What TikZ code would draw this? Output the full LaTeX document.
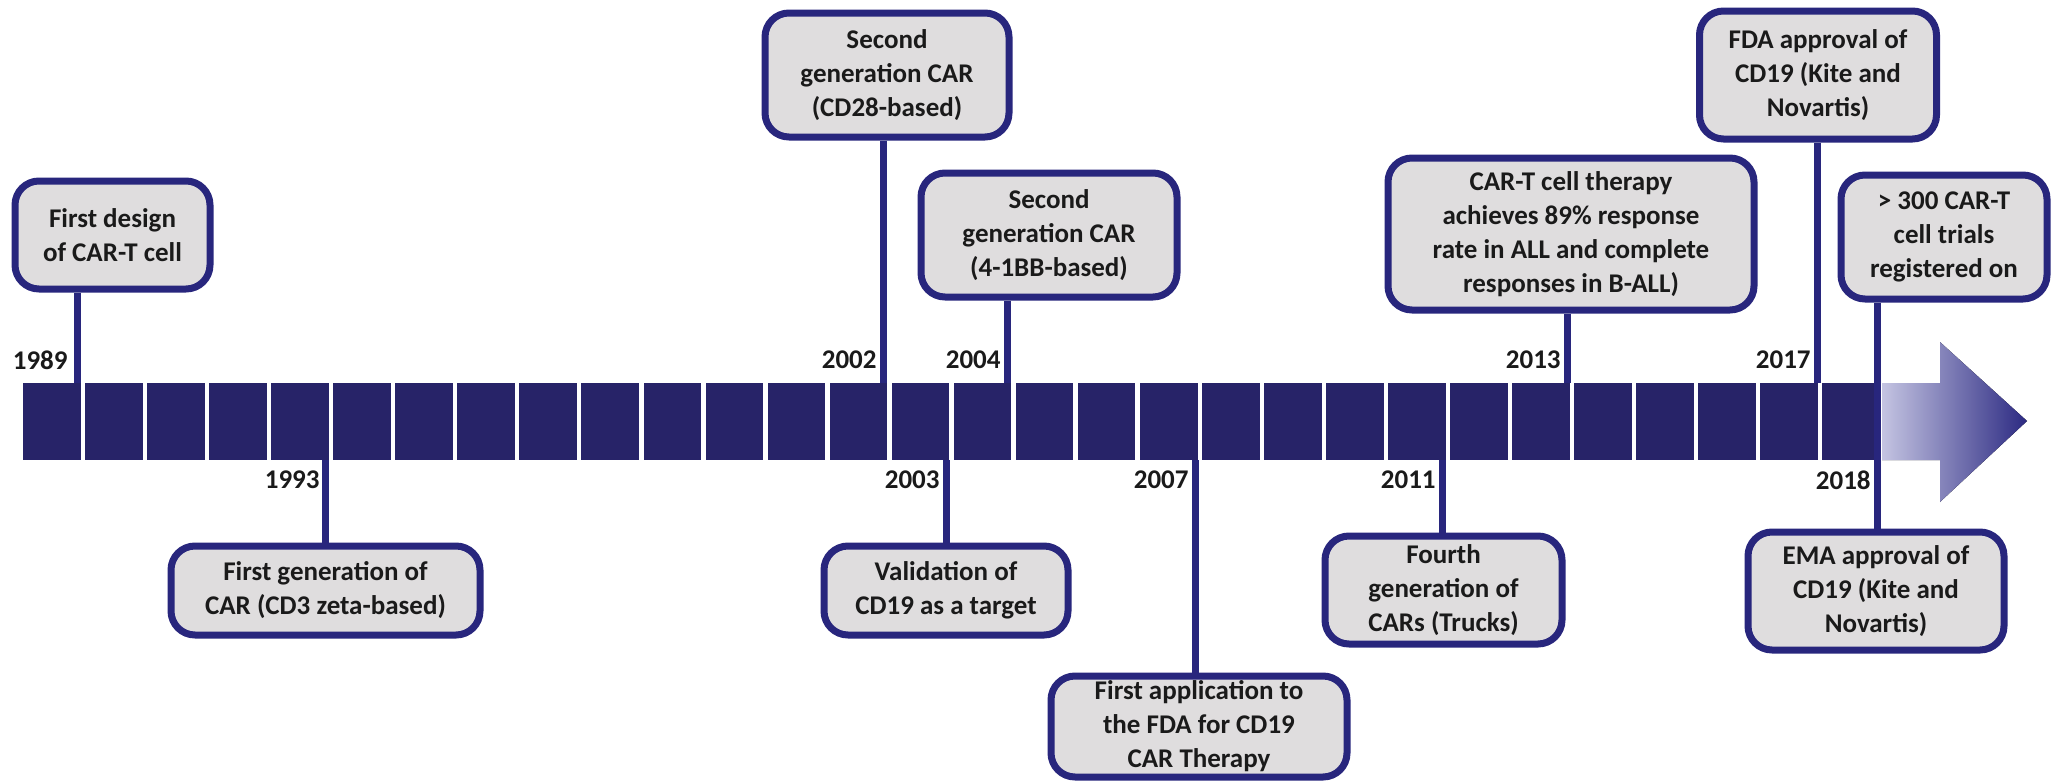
\documentclass[tikz,border=0pt]{standalone}
\usepackage{fontspec}
\setmainfont{Carlito}
\definecolor{barblue}{RGB}{39,35,104}
\definecolor{edgeblue}{RGB}{40,38,125}
\definecolor{boxgray}{RGB}{223,221,222}
\definecolor{inkgray}{RGB}{26,26,26}
\definecolor{fadeblue}{RGB}{196,196,226}
\definecolor{tipblue}{RGB}{44,42,130}
\tikzset{x=0.5pt,y=-0.5pt,
  event/.style={draw=edgeblue,line width=3.5pt,fill=boxgray,rounded corners=12pt,align=center,text=inkgray,inner sep=1pt,font=\bfseries\fontsize{13.5}{17}\selectfont},
  year/.style={text=inkgray,inner sep=0pt,anchor=east,font=\bfseries\fontsize{13.5}{17}\selectfont},
  stem/.style={draw=edgeblue,line width=3.5pt},
  block/.style={fill=barblue}}

\begin{document}
\begin{tikzpicture}
  \useasboundingbox (0,0) rectangle (2053,782);

  % time bar and arrow
  \foreach \i in {0,...,29}
    \fill[block] ({23+62.05*\i},383) rectangle ++(57.6,77);
  \fill[left color=fadeblue,right color=tipblue] (1882,383) -- (1940,383) -- (1940,342) -- (2027,421)
    -- (1940,502) -- (1940,460) -- (1882,460) -- cycle;

  % points on the bar
  \coordinate (t1989) at (77,383);
  \coordinate (t1993) at (325,460);
  \coordinate (t2002) at (883,383);
  \coordinate (t2003) at (946,460);
  \coordinate (t2004) at (1007,383);
  \coordinate (t2007) at (1195,460);
  \coordinate (t2011) at (1442,460);
  \coordinate (t2013) at (1567,383);
  \coordinate (t2017) at (1817,383);
  \coordinate (t2018) at (1877,421);

  % events
  \node (design) [event,minimum width=97.5pt,minimum height=54pt] at (112.5,235) {First design\\of CAR-T cell};
  \node (firstgen) [event,minimum width=154.5pt,minimum height=44.5pt] at (325.5,590.5) {First generation of\\CAR (CD3 zeta-based)};
  \node (cdtwoeight) [event,minimum width=122pt,minimum height=62pt] at (887,75) {Second\\generation CAR\\(CD28-based)};
  \node (fourbb) [event,minimum width=128pt,minimum height=62pt] at (1049,235) {Second\\generation CAR\\(4-1BB-based)};
  \node (target) [event,minimum width=122pt,minimum height=44.5pt] at (946,590.5) {Validation of\\CD19 as a target};
  \node (fdaapp) [event,minimum width=148pt,minimum height=50.5pt] at (1199,726.5) {First application to\\the FDA for CD19\\CAR Therapy};
  \node (trucks) [event,minimum width=118.5pt,minimum height=54pt] at (1443.5,590) {Fourth\\generation of\\CARs (Trucks)};
  \node (response) [event,minimum width=183pt,minimum height=76pt] at (1571,234) {CAR-T cell therapy\\achieves 89\% response\\rate in ALL and complete\\responses in B-ALL)};
  \node (fda) [event,minimum width=118.5pt,minimum height=64pt] at (1818,75) {FDA approval of\\CD19 (Kite and\\Novartis)};
  \node (trials) [event,minimum width=103pt,minimum height=62pt] at (1944,237) {> 300 CAR-T\\cell trials\\registered on};
  \node (ema) [event,minimum width=128pt,minimum height=59pt] at (1876,591) {EMA approval of\\CD19 (Kite and\\Novartis)};

  % years
  \node (y1989) [year] at (68,360) {1989};
  \node (y1993) [year] at (320,480) {1993};
  \node (y2002) [year] at (877,360) {2002};
  \node (y2003) [year] at (940,480) {2003};
  \node (y2004) [year] at (1001,360) {2004};
  \node (y2007) [year] at (1189,480) {2007};
  \node (y2011) [year] at (1436,480) {2011};
  \node (y2013) [year] at (1561,360) {2013};
  \node (y2017) [year] at (1811,360) {2017};
  \node (y2018) [year] at (1871,480) {2018};

  \path
  (design.south -| t1989) edge [stem] (t1989)
  (t1993) edge [stem] (firstgen.north -| t1993)
  (cdtwoeight.south -| t2002) edge [stem] (t2002)
  (t2003) edge [stem] (target.north -| t2003)
  (fourbb.south -| t2004) edge [stem] (t2004)
  (t2007) edge [stem] (fdaapp.north -| t2007)
  (t2011) edge [stem] (trucks.north -| t2011)
  (response.south -| t2013) edge [stem] (t2013)
  (fda.south -| t2017) edge [stem] (t2017)
  (trials.south -| t2018) edge [stem] (ema.north -| t2018)
  ;
\end{tikzpicture}
\end{document}
